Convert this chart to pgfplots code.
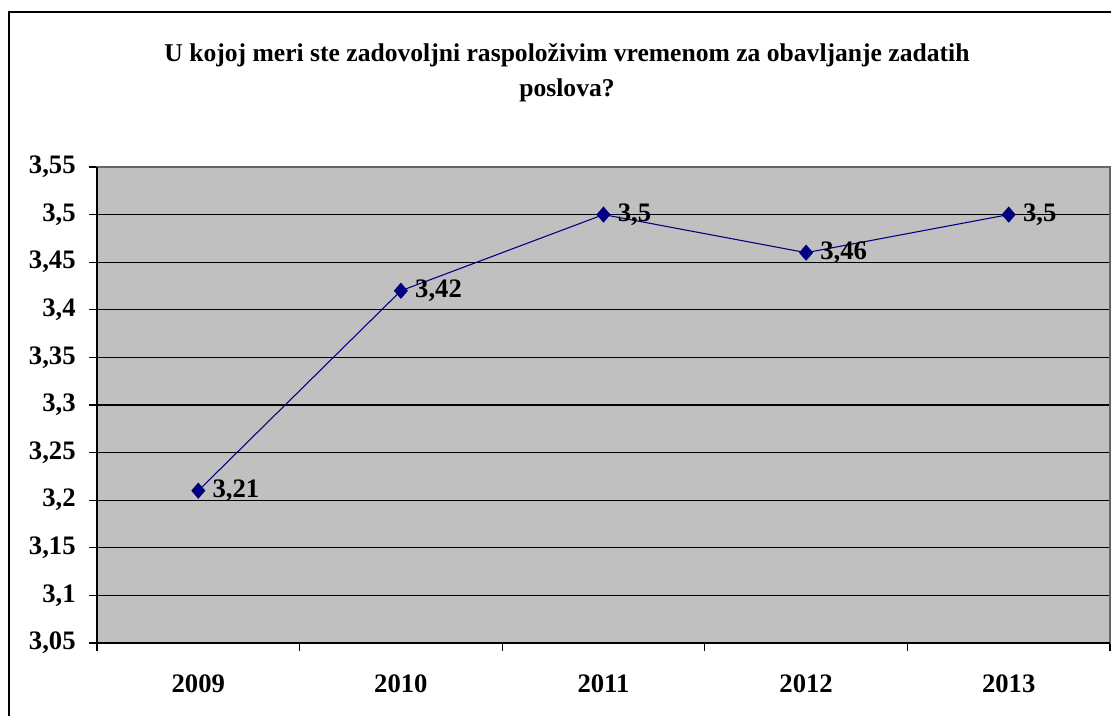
\documentclass[border=0pt]{standalone}
\usepackage{fontspec}
\setmainfont{Liberation Serif}
\usepackage{pgfplots}
\pgfplotsset{compat=1.18}
\definecolor{plotgray}{RGB}{192,192,192}
\definecolor{navyline}{RGB}{0,0,128}
\begin{document}
\begin{tikzpicture}[x=0.75pt,y=0.75pt]
\path[use as bounding box] (-97,-73) rectangle (1014,643);
\draw[line width=1.1pt] (-88,-120) rectangle (1150,631);
\node[anchor=base,font=\bfseries\fontsize{19.2}{20}\selectfont] at (470,581) {U kojoj meri ste zadovoljni raspoloživim vremenom za obavljanje zadatih};
\node[anchor=base,font=\bfseries\fontsize{19.2}{20}\selectfont] at (470,546) {poslova?};
\begin{axis}[
  at={(0,0)}, anchor=south west,
  scale only axis,
  width=759.75pt, height=357pt,
  xmin=-0.5, xmax=4.5,
  ymin=3.05, ymax=3.55,
  ytick={3.05,3.1,...,3.56},
  xtick={-0.5,0.5,...,4.5},
  xticklabels={2009,2010,2011,2012,2013},
  x tick label as interval,
  xtick pos=bottom, ytick pos=left,
  axis background/.style={fill=plotgray},
  axis line style={draw=gray!80!black, line width=0.8pt},
  ymajorgrids,
  grid style={black, line width=0.9pt},
  tick align=outside,
  major tick length=6pt,
  tick style={black, line width=0.8pt},
  /pgf/number format/assume math mode=true,
  /pgf/number format/use comma,
  /pgf/number format/fixed,
  yticklabel style={font=\bfseries\fontsize{20}{20}\selectfont, xshift=-6.5pt},
  xticklabel style={font=\bfseries\fontsize{20}{20}\selectfont, yshift=-14pt},
  clip=false,
  nodes near coords,
  point meta=explicit symbolic,
  every node near coord/.append style={anchor=west, xshift=7pt, font=\bfseries\fontsize{20}{20}\selectfont, black},
]
\addplot[navyline, line width=0.8pt, mark=diamond*, mark size=5.5pt, mark options={fill=navyline, xscale=1.15}]
 table[meta=lab] {
 x y lab
 0 3.21 3,21
 1 3.42 3,42
 2 3.50 3,5
 3 3.46 3,46
 4 3.50 3,5
 };
\draw[black, line width=1pt] (rel axis cs:0,1) -- (rel axis cs:0,0) -- (rel axis cs:1,0);
\end{axis}
\end{tikzpicture}
\end{document}
